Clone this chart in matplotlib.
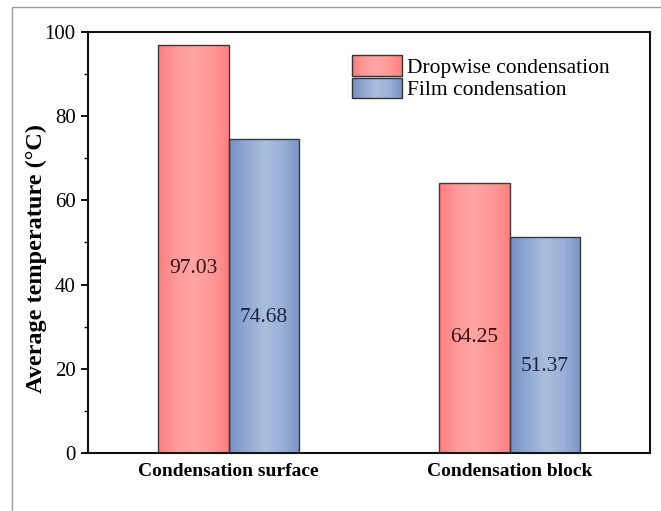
import numpy as np
import matplotlib
matplotlib.use("Agg")
import matplotlib.pyplot as plt
from matplotlib.patches import Rectangle
from matplotlib.legend_handler import HandlerBase
from matplotlib.colors import LinearSegmentedColormap
from matplotlib.lines import Line2D

categories = ["Condensation surface", "Condensation block"]
series_names = ["Dropwise condensation", "Film condensation"]
dropwise = [97.03, 64.25]
film = [74.68, 51.37]
yticks = [0, 20, 40, 60, 80, 100]

plt.rcParams['font.family'] = ['Liberation Serif', 'DejaVu Serif']

red_cmap = LinearSegmentedColormap.from_list(
    "red", ["#FF7C7C", "#FF9A9A", "#FFA4A4", "#FF9898", "#FF8080"])
blue_cmap = LinearSegmentedColormap.from_list(
    "blue", ["#7690C4", "#92A9D3", "#AABEDD", "#9BB1D8", "#7893C8"])

fig = plt.figure(figsize=(6.61, 5.11), dpi=100)
ax = fig.add_axes([88/661, 58/511, 562/661, 421/511])

x = np.arange(len(categories))
w = 0.25
grad = np.linspace(0, 1, 256).reshape(1, -1)

def draw_bars(xs, vals, cmap):
    bars = ax.bar(xs, vals, width=w, facecolor='none', edgecolor='#3a3a3a',
                  linewidth=1.0, zorder=3)
    for b in bars:
        x0, y0 = b.get_x(), b.get_y()
        im = ax.imshow(grad, cmap=cmap, aspect='auto',
                       extent=[x0, x0 + b.get_width(), y0, y0 + b.get_height()],
                       zorder=2, interpolation='bicubic')
        im.set_clip_path(b)
    return bars

draw_bars(x - w/2, dropwise, red_cmap)
draw_bars(x + w/2, film, blue_cmap)

for xi, v in zip(x - w/2, dropwise):
    ax.text(xi, v/2 - 4.8, f"{v:.2f}", ha='center', va='center',
            fontsize=15.5, color='#3a1010', zorder=4)
for xi, v in zip(x + w/2, film):
    ax.text(xi, v/2 - 5.2, f"{v:.2f}", ha='center', va='center',
            fontsize=15.5, color='#1a2440', zorder=4)

ax.set_xlim(-0.5, 1.5)
ax.set_ylim(0, 100)
ax.set_yticks(yticks)
ax.set_yticks(np.arange(10, 100, 20), minor=True)
ax.set_xticks(x)
ax.set_xticklabels(categories, fontsize=14, fontweight='bold')
ax.tick_params(axis='x', length=0, pad=7)
ax.tick_params(axis='y', which='major', length=5, width=1.3, labelsize=15, direction='out', pad=4)
ax.tick_params(axis='y', which='minor', length=3, width=1.0, direction='out')
ax.set_ylabel("Average temperature (\u00b0C)", fontsize=17.5, fontweight='bold', labelpad=1)
ax.yaxis.set_label_coords(-0.073, 0.462)
for s in ax.spines.values():
    s.set_linewidth(1.5)
    s.set_color('#111111')


class GradientHandler(HandlerBase):
    def __init__(self, cmap):
        super().__init__()
        self.cmap = cmap

    def create_artists(self, legend, orig_handle, xdescent, ydescent,
                       width, height, fontsize, trans):
        arts = []
        n = 30
        for i in range(n):
            r = Rectangle((-xdescent + width * i / n, -ydescent), width / n + 0.3, height,
                          facecolor=self.cmap((i + 0.5) / n), edgecolor='none',
                          transform=trans)
            arts.append(r)
        frame = Rectangle((-xdescent, -ydescent), width, height, facecolor='none',
                          edgecolor='#333333', linewidth=1.0, transform=trans)
        arts.append(frame)
        return arts

h1 = Line2D([], [])
h2 = Line2D([], [])
ax.legend([h1, h2], series_names, loc='upper left', bbox_to_anchor=(0.47, 0.945),
          frameon=False, fontsize=15.5, handlelength=2.3, handleheight=1.1,
          labelspacing=0.0, handletextpad=0.25, borderpad=0, borderaxespad=0,
          handler_map={h1: GradientHandler(red_cmap), h2: GradientHandler(blue_cmap)})

# partial gray frame around the image (top and left)
fig.add_artist(Line2D([12/661, 12/661, 1.0], [0.0, 1 - 7/511, 1 - 7/511],
                      transform=fig.transFigure, color='#9a9a9a', linewidth=1.0))

fig.savefig("out.png", dpi=100)
